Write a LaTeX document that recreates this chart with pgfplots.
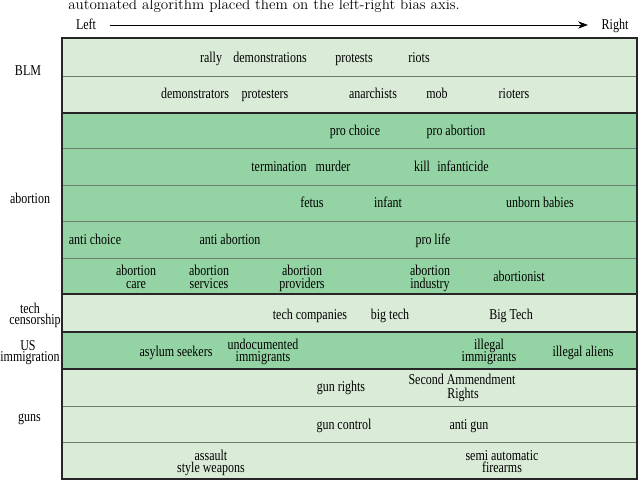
\documentclass[border=0pt]{standalone}
\usepackage{fontspec}
\usepackage{pgfplots}
\usepackage{pgfplotstable}
\pgfplotsset{compat=1.18}
\usetikzlibrary{arrows.meta}

\newfontfamily\cond[FakeStretch=0.8]{Liberation Serif}
\newcommand\wfont{\cond\fontsize{11.25}{9}\selectfont}

\definecolor{lightband}{RGB}{218,236,216}
\definecolor{midband}{RGB}{148,212,164}
\definecolor{sepline}{RGB}{110,125,112}

% word positions, in pixels of the 640x481 picture (y downwards)
\pgfplotstableread[col sep=comma]{
x,y,label
211,62.5,rally
270,62.5,demonstrations
354,62.5,protests
419,62.5,riots
195,98.5,demonstrators
265,98.5,protesters
373,98.5,anarchists
437,98.5,mob
514,98.5,rioters
}\blmwords

\pgfplotstableread[col sep=comma]{
x,y,label
355,136,pro choice
456,136,pro abortion
279,171.5,termination
333,171.5,murder
422,171.5,kill
463,171.5,infanticide
312,208,fetus
388,208,infant
540,208,unborn babies
95,245,anti choice
230,245,anti abortion
433,245,pro life
136,276,abortion
136,288.5,care
209,276,abortion
209,288.5,services
302,276,abortion
302,288.5,providers
430,276,abortion
430,288.5,industry
519,281.7,abortionist
}\abortionwords

\pgfplotstableread[col sep=comma]{
x,y,label
310,319.3,tech companies
390,319.3,big tech
511,319.3,Big Tech
}\techwords

\pgfplotstableread[col sep=comma]{
x,y,label
176,356.7,asylum seekers
263,349.5,undocumented
263,362,immigrants
489,349.5,illegal
489,362,immigrants
583,356.7,illegal aliens
}\immigwords

\pgfplotstableread[col sep=comma]{
x,y,label
341,391.7,gun rights
462,384.5,Second Ammendment
463,398,Rights
344,429.3,gun control
469,429.3,anti gun
211,460.5,assault
211,473,style weapons
502,460.5,semi automatic
502,473,firearms
}\gunwords

\pgfplotstableread[col sep=comma]{
x,y,label
28,76,BLM
30,204,abortion
30,313.5,tech
35,325,censorship
28,350.5,US
30,362,immigration
29.5,421.7,guns
86,29.3,Left
615,29.3,Right
}\sidewords

\begin{document}
\begin{tikzpicture}
\begin{axis}[
    scale only axis, width=480pt, height=360.75pt,
    xmin=0, xmax=640, ymin=0, ymax=481, y dir=reverse,
    hide axis, clip=false,
    words/.style={draw=none, mark=none, nodes near coords,
      point meta=explicit symbolic,
      nodes near coords style={anchor=base, font=\wfont, inner sep=0pt}},
  ]
  % bands
  \addplot[fill=lightband, draw=none] coordinates {(62,38)(637,38)(637,113)(62,113)} -- cycle;
  \addplot[fill=midband, draw=none] coordinates {(62,113)(637,113)(637,294)(62,294)} -- cycle;
  \addplot[fill=lightband, draw=none] coordinates {(62,294)(637,294)(637,332)(62,332)} -- cycle;
  \addplot[fill=midband, draw=none] coordinates {(62,332)(637,332)(637,369)(62,369)} -- cycle;
  \addplot[fill=lightband, draw=none] coordinates {(62,369)(637,369)(637,479)(62,479)} -- cycle;
  % thin separators inside a topic
  \addplot[sepline, line width=0.6pt] coordinates {(62,76)(637,76)};
  \addplot[sepline, line width=0.6pt] coordinates {(62,148.5)(637,148.5)};
  \addplot[sepline, line width=0.6pt] coordinates {(62,185)(637,185)};
  \addplot[sepline, line width=0.6pt] coordinates {(62,221)(637,221)};
  \addplot[sepline, line width=0.6pt] coordinates {(62,258)(637,258)};
  \addplot[sepline, line width=0.6pt] coordinates {(62,406)(637,406)};
  \addplot[sepline, line width=0.6pt] coordinates {(62,442)(637,442)};
  % thick topic borders
  \addplot[black!85, line width=1.2pt] coordinates {(62,113)(637,113)};
  \addplot[black!85, line width=1.2pt] coordinates {(62,294)(637,294)};
  \addplot[black!85, line width=1.2pt] coordinates {(62,332)(637,332)};
  \addplot[black!85, line width=1.2pt] coordinates {(62,369)(637,369)};
  \addplot[black!85, line width=1.2pt] coordinates {(62,38)(637,38)(637,479)(62,479)} -- cycle;
  % bias arrow
  \addplot[black, line width=0.7pt, -{Stealth[length=7.5pt,width=5.5pt]}] coordinates {(110,25)(588,25)};
  % words
  \addplot[words] table[x=x, y=y, meta=label] {\blmwords};
  \addplot[words] table[x=x, y=y, meta=label] {\abortionwords};
  \addplot[words] table[x=x, y=y, meta=label] {\techwords};
  \addplot[words] table[x=x, y=y, meta=label] {\immigwords};
  \addplot[words] table[x=x, y=y, meta=label] {\gunwords};
  \addplot[words] table[x=x, y=y, meta=label] {\sidewords};
  \node[anchor=base west, inner sep=0pt, font=\fontsize{11.3}{13}\selectfont]
    at (axis cs:68,10) {automated algorithm placed them on the left-right bias axis.};
\end{axis}
\pgfresetboundingbox
\path[use as bounding box] (current axis.south west) rectangle (current axis.north east);
\end{tikzpicture}
\end{document}
